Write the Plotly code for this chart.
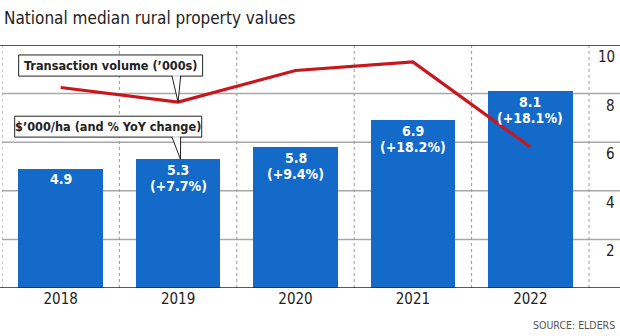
import plotly.graph_objects as go

# Chart data
years = ["2018", "2019", "2020", "2021", "2022"]
value_per_ha = [4.9, 5.3, 5.8, 6.9, 8.1]          # $'000/ha
yoy_change = [None, 7.7, 9.4, 18.2, 18.1]          # % year-on-year
transaction_volume = [8.25, 7.65, 8.95, 9.3, 5.8]  # '000s
y_ticks = [2, 4, 6, 8, 10]

FONT = "DejaVu Sans Condensed, Roboto, sans-serif"
BAR_BLUE = "#136ac9"
LINE_RED = "#c8161d"

xpos = list(range(len(years)))

fig = go.Figure()

fig.add_trace(go.Bar(
    x=xpos, y=value_per_ha, width=0.72,
    marker=dict(color=BAR_BLUE, line=dict(width=0)),
    hoverinfo="skip", showlegend=False,
))

fig.add_trace(go.Scatter(
    x=xpos, y=transaction_volume, mode="lines",
    line=dict(color=LINE_RED, width=3.2),
    hoverinfo="skip", showlegend=False,
))

shapes = []
annotations = []

# horizontal gridlines
for t in y_ticks[:-1]:
    shapes.append(dict(type="line", xref="paper", yref="y", x0=0, x1=1, y0=t, y1=t,
                       line=dict(color="#a8a8a8", width=1.5), layer="below"))
# vertical dotted separators
for i in range(len(years) + 1):
    shapes.append(dict(type="line", xref="x", yref="y", x0=i - 0.5, x1=i - 0.5, y0=0, y1=10,
                       line=dict(color="#9a9a9a", width=1, dash="dot"), layer="below"))
# top rule and baseline
shapes.append(dict(type="line", xref="paper", yref="y", x0=-0.004, x1=1, y0=10, y1=10,
                   line=dict(color="#222222", width=1.5)))
shapes.append(dict(type="line", xref="paper", yref="y", x0=-0.004, x1=1, y0=0, y1=0,
                   line=dict(color="#222222", width=1.5)))

# right-hand value labels, sitting just under each gridline
for t in y_ticks:
    annotations.append(dict(xref="paper", yref="y", x=0.995, y=t, text=str(t),
                            xanchor="right", yanchor="top", yshift=-1, showarrow=False,
                            font=dict(family=FONT, size=15, color="#222222")))

# bar value labels
for i, (v, c) in enumerate(zip(value_per_ha, yoy_change)):
    annotations.append(dict(x=i, y=v, text=f"<b>{v:.1f}</b>", xanchor="center",
                            yanchor="middle", yshift=-10.5, showarrow=False,
                            font=dict(family=FONT, size=14, color="white")))
    if c is not None:
        annotations.append(dict(x=i, y=v, text=f"<b>(+{c:.1f}%)</b>", xanchor="center",
                                yanchor="middle", yshift=-26.5, showarrow=False,
                                font=dict(family=FONT, size=14, color="white")))

# callout boxes with pointers
def callout(x0, x1, y0, y1, px0, px1, tip_x, tip_y, text):
    shapes.append(dict(type="path",
                       path=f"M {px0},{y0} L {tip_x},{tip_y} L {px1},{y0} Z",
                       xref="x", yref="y", fillcolor="white",
                       line=dict(color="#222222", width=1)))
    shapes.append(dict(type="rect", xref="x", yref="y", x0=x0, x1=x1, y0=y0, y1=y1,
                       fillcolor="white", line=dict(color="#222222", width=1)))
    shapes.append(dict(type="line", xref="x", yref="y", x0=px0 + 0.006, x1=px1 - 0.006,
                       y0=y0, y1=y0, line=dict(color="white", width=1.5)))
    annotations.append(dict(x=(x0 + x1) / 2, y=(y0 + y1) / 2, text=f"<b>{text}</b>",
                            xanchor="center", yanchor="middle", showarrow=False,
                            font=dict(family=FONT, size=12.6, color="#222222")))

callout(-0.358, 1.209, 8.72, 9.59, 0.948, 1.022, 1, transaction_volume[1],
        "Transaction volume (’000s)")
callout(-0.392, 1.201, 6.21, 7.07, 0.948, 1.022, 1.02, value_per_ha[1],
        "$’000/ha (and % YoY change)")

# title and source
annotations.append(dict(xref="paper", yref="paper", x=0.0, y=1.111, text="National median rural property values",
                        xanchor="left", yanchor="middle", showarrow=False,
                        font=dict(family=FONT, size=17, color="#222222")))
annotations.append(dict(xref="paper", yref="paper", x=0.995, y=-0.152, text="SOURCE: ELDERS",
                        xanchor="right", yanchor="middle", showarrow=False,
                        font=dict(family=FONT, size=10.5, color="#555555")))

fig.update_layout(
    width=620, height=336,
    margin=dict(l=2, r=0, t=45, b=48),
    paper_bgcolor="white", plot_bgcolor="white",
    shapes=shapes, annotations=annotations,
    bargap=0,
    xaxis=dict(range=[-0.5, 4.764], tickvals=xpos, ticktext=years, showgrid=False,
               zeroline=False, showline=False, ticks="",
               tickfont=dict(family=FONT, size=15, color="#222222")),
    yaxis=dict(range=[0, 10], showgrid=False, zeroline=False, showline=False,
               showticklabels=False, ticks=""),
)

fig.write_html("out.html")
